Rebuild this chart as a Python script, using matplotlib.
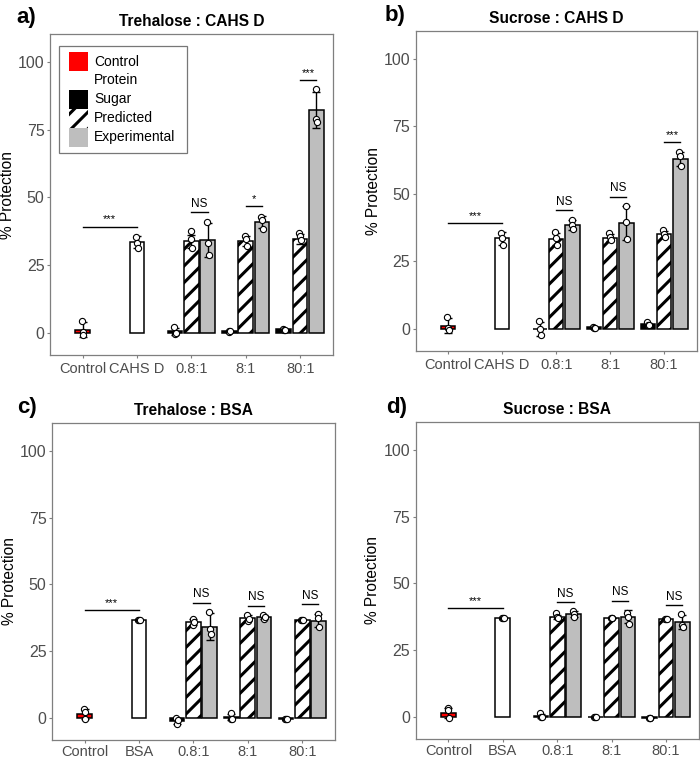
import matplotlib
matplotlib.use("Agg")
import matplotlib.pyplot as plt
from matplotlib.patches import Rectangle

plt.rcParams['font.family'] = ['Liberation Sans', 'DejaVu Sans']
plt.rcParams['hatch.linewidth'] = 2.2

ratios = ["0.8:1", "8:1", "80:1"]
ytick_vals = [0, 25, 50, 75, 100]
legend_labels = ["Control", "Protein", "Sugar", "Predicted", "Experimental"]

# a) Trehalose : CAHS D
a_control_mean, a_control_sd, a_control_pts = 1.2, 2.8, [4.3, 0.2, -0.8]
a_protein_mean, a_protein_sd, a_protein_pts = 33.5, 2.2, [35.5, 33.2, 31.2]
a_sugar_mean = [0.5, 0.5, 1.3]
a_sugar_sd = [1.2, 0.3, 0.2]
a_sugar_pts = [[2.0, -0.5, 0.0], [0.8, 0.2, 0.5], [1.5, 1.2, 1.2]]
a_pred_mean = [33.8, 33.8, 34.6]
a_pred_sd = [2.5, 1.8, 1.8]
a_pred_pts = [[37.7, 34.5, 31.2], [35.8, 34.8, 32.0], [37.0, 35.8, 34.2]]
a_exp_mean = [34.2, 41.0, 82.4]
a_exp_sd = [6.2, 2.3, 6.7]
a_exp_pts = [[41.0, 33.0, 28.6], [42.9, 41.7, 38.2], [90.0, 79.0, 78.0]]
a_sig = ["NS", "*", "***"]

# b) Sucrose : CAHS D
b_control_mean, b_control_sd, b_control_pts = 1.1, 2.8, [4.3, 0.2, -0.5]
b_protein_mean, b_protein_sd, b_protein_pts = 33.5, 2.3, [35.5, 33.5, 31.0]
b_sugar_mean = [0.0, 0.5, 1.8]
b_sugar_sd = [2.5, 0.2, 0.5]
b_sugar_pts = [[2.8, -0.2, -2.1], [0.5, 0.3, 0.3], [2.5, 1.5, 1.5]]
b_pred_mean = [33.3, 33.8, 35.0]
b_pred_sd = [2.4, 1.3, 1.4]
b_pred_pts = [[36.0, 33.5, 31.2], [35.5, 34.2, 33.0], [36.8, 35.0, 34.0]]
b_exp_mean = [38.5, 39.3, 63.1]
b_exp_sd = [1.7, 6.2, 2.6]
b_exp_pts = [[40.5, 38.5, 37.0], [45.5, 39.5, 33.3], [65.7, 64.2, 60.3]]
b_sig = ["NS", "NS", "***"]

# c) Trehalose : BSA
c_control_mean, c_control_sd, c_control_pts = 1.6, 1.9, [3.4, 2.2, -0.2]
c_protein_mean, c_protein_sd, c_protein_pts = 36.8, 0.2, [36.8, 36.8, 36.8]
c_sugar_mean = [-1.0, 0.3, -0.3]
c_sugar_sd = [1.2, 1.2, 0.1]
c_sugar_pts = [[0.0, -2.2, -0.8], [1.8, -0.5, -0.4], [-0.4, -0.4, -0.4]]
c_pred_mean = [36.0, 37.4, 36.7]
c_pred_sd = [1.0, 1.2, 0.1]
c_pred_pts = [[37.0, 35.0, 36.0], [38.5, 36.5, 37.2], [36.7, 36.7, 36.7]]
c_exp_mean = [34.2, 37.8, 36.5]
c_exp_sd = [5.0, 0.8, 2.5]
c_exp_pts = [[39.7, 33.2, 31.5], [38.5, 37.2, 37.8], [38.8, 37.4, 34.0]]
c_sig = ["NS", "NS", "NS"]

# d) Sucrose : BSA
d_control_mean, d_control_sd, d_control_pts = 1.6, 1.9, [3.4, 2.6, -0.5]
d_protein_mean, d_protein_sd, d_protein_pts = 37.0, 0.2, [37.0, 37.0, 37.0]
d_sugar_mean = [0.5, 0.0, -0.2]
d_sugar_sd = [0.8, 0.1, 0.1]
d_sugar_pts = [[1.5, 0.0, 0.0], [0.0, 0.0, 0.0], [-0.2, -0.2, -0.2]]
d_pred_mean = [37.4, 37.0, 36.8]
d_pred_sd = [0.8, 0.1, 0.1]
d_pred_pts = [[38.8, 37.5, 37.0], [37.0, 37.0, 37.0], [36.8, 36.8, 36.8]]
d_exp_mean = [38.6, 37.6, 35.5]
d_exp_sd = [1.0, 2.5, 2.6]
d_exp_pts = [[39.5, 38.5, 37.5], [39.0, 37.5, 34.8], [38.5, 34.5, 33.7]]
d_sig = ["NS", "NS", "NS"]

RED = '#FF0000'
GREY = '#BEBEBE'
FRAME = '#7F7F7F'
TICKTXT = '#4D4D4D'
W = 0.27
OFF = 0.3
JIT = [-0.015, 0.0, 0.015]


def one_bar(ax, x, mean, sd, pts, color, hatch=None):
    ax.bar(x, mean, width=W, color=color, edgecolor='black', linewidth=1.1,
           hatch=hatch, zorder=2)
    ax.errorbar(x, mean, yerr=sd, fmt='none', ecolor='black', elinewidth=1.0,
                capsize=3, capthick=1.0, zorder=3)
    ax.scatter([x + j for j in JIT[:len(pts)]], pts, s=20, facecolor='white',
               edgecolor='black', linewidths=0.8, zorder=4)


def sig_mark(ax, x0, x1, y, label):
    ax.plot([x0, x1], [y, y], color='black', lw=1.0, zorder=3)
    fs = 8.5 if label == "NS" else 8
    ax.text((x0 + x1) / 2, y + 0.8, label, ha='center', va='bottom', fontsize=fs)


def panel(ax, title, protein, control, prot, sugar, pred, exp, sig, xpad):
    one_bar(ax, 1, control[0], control[1], control[2], RED)
    one_bar(ax, 2, prot[0], prot[1], prot[2], 'white')
    top = max(max(control[2]), control[0] + control[1], max(prot[2]), prot[0] + prot[1])
    sig_mark(ax, 1, 2, top + 3.5, "***")
    for i in range(3):
        xc = 3 + i
        one_bar(ax, xc - OFF, sugar[0][i], sugar[1][i], sugar[2][i], 'black')
        one_bar(ax, xc, pred[0][i], pred[1][i], pred[2][i], 'white', hatch='//')
        one_bar(ax, xc + OFF, exp[0][i], exp[1][i], exp[2][i], GREY)
        top = max(max(pred[2][i]), max(exp[2][i]), exp[0][i] + exp[1][i],
                  pred[0][i] + pred[1][i])
        sig_mark(ax, xc, xc + OFF, top + 3.5, sig[i])

    ax.set_xlim(0.4, 5.6)
    ax.set_ylim(-8.2, 110.4)
    ax.set_xticks([1, 2, 3, 4, 5])
    ax.set_xticklabels(["Control", protein] + ratios)
    ax.set_yticks(ytick_vals)
    ax.tick_params(colors=FRAME, labelcolor=TICKTXT, length=2.5, width=0.8)
    ax.tick_params(axis='x', labelsize=10.5, pad=xpad)
    ax.tick_params(axis='y', labelsize=11.5, pad=1.5)
    for s in ax.spines.values():
        s.set_color(FRAME)
        s.set_linewidth(0.9)
    ax.set_ylabel("% Protection", fontsize=11.2)
    ax.yaxis.set_label_coords(-0.125, 0.5)
    ax.set_title(title, fontsize=11.2, fontweight='bold', pad=6)


fig = plt.figure(figsize=(7.0, 7.61), dpi=100)
ax_a = fig.add_axes([0.0714, 0.5335, 0.404, 0.4218])
ax_b = fig.add_axes([0.594, 0.5388, 0.401, 0.4205])
ax_c = fig.add_axes([0.0743, 0.0276, 0.404, 0.4166])
ax_d = fig.add_axes([0.594, 0.0289, 0.404, 0.4166])

panel(ax_a, "Trehalose : CAHS D", "CAHS D",
      (a_control_mean, a_control_sd, a_control_pts),
      (a_protein_mean, a_protein_sd, a_protein_pts),
      (a_sugar_mean, a_sugar_sd, a_sugar_pts),
      (a_pred_mean, a_pred_sd, a_pred_pts),
      (a_exp_mean, a_exp_sd, a_exp_pts), a_sig, 2.5)
panel(ax_b, "Sucrose : CAHS D", "CAHS D",
      (b_control_mean, b_control_sd, b_control_pts),
      (b_protein_mean, b_protein_sd, b_protein_pts),
      (b_sugar_mean, b_sugar_sd, b_sugar_pts),
      (b_pred_mean, b_pred_sd, b_pred_pts),
      (b_exp_mean, b_exp_sd, b_exp_pts), b_sig, 2.5)
panel(ax_c, "Trehalose : BSA", "BSA",
      (c_control_mean, c_control_sd, c_control_pts),
      (c_protein_mean, c_protein_sd, c_protein_pts),
      (c_sugar_mean, c_sugar_sd, c_sugar_pts),
      (c_pred_mean, c_pred_sd, c_pred_pts),
      (c_exp_mean, c_exp_sd, c_exp_pts), c_sig, 0.8)
panel(ax_d, "Sucrose : BSA", "BSA",
      (d_control_mean, d_control_sd, d_control_pts),
      (d_protein_mean, d_protein_sd, d_protein_pts),
      (d_sugar_mean, d_sugar_sd, d_sugar_pts),
      (d_pred_mean, d_pred_sd, d_pred_pts),
      (d_exp_mean, d_exp_sd, d_exp_pts), d_sig, 0.8)

# legend drawn by hand so the keys are square and touch (ggplot style)
def fx(px):
    return px / 700


def fy(py):
    return 1 - py / 761


fig.add_artist(Rectangle((fx(59), fy(153)), fx(128), 107 / 761, transform=fig.transFigure,
                         fill=True, facecolor='white', edgecolor='#777777', lw=0.9, zorder=5))
key_colors = [RED, 'white', 'black', 'white', GREY]
key_hatch = [None, None, None, '//', None]
for i, lab in enumerate(legend_labels):
    top = 52 + 19 * i
    fig.add_artist(Rectangle((fx(69), fy(top + 19)), fx(19), 19 / 761, transform=fig.transFigure,
                             facecolor=key_colors[i], edgecolor='black', lw=0,
                             hatch=key_hatch[i], zorder=6))
    fig.text(fx(94), fy(top + 9.5), lab, fontsize=10, va='center', ha='left', zorder=7)

fig.text(0.024, 1 - 17 / 761, "a)", fontsize=16, fontweight='bold', va='center', ha='left')
fig.text(0.550, 1 - 15 / 761, "b)", fontsize=16, fontweight='bold', va='center', ha='left')
fig.text(0.024, 1 - 407 / 761, "c)", fontsize=16, fontweight='bold', va='center', ha='left')
fig.text(0.551, 1 - 407 / 761, "d)", fontsize=16, fontweight='bold', va='center', ha='left')

fig.savefig("out.png", dpi=100)
